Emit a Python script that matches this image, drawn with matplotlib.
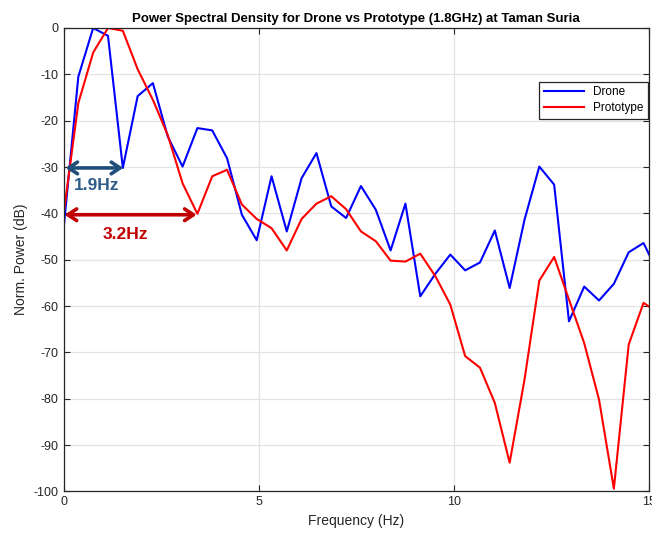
import matplotlib
matplotlib.use("Agg")
import matplotlib.pyplot as plt

plt.rcParams["font.family"] = ["Liberation Sans", "DejaVu Sans"]
plt.rcParams["axes.unicode_minus"] = False

# frequency bins (Hz), last bin lies just past the axis limit
freq = [0.00, 0.38, 0.76, 1.14, 1.52, 1.90, 2.29, 2.67, 3.05, 3.43,
        3.81, 4.19, 4.57, 4.95, 5.33, 5.72, 6.10, 6.48, 6.86, 7.24,
        7.62, 8.00, 8.38, 8.76, 9.14, 9.53, 9.91, 10.29, 10.67, 11.05,
        11.43, 11.81, 12.19, 12.57, 12.95, 13.34, 13.72, 14.10, 14.48, 14.86,
        15.24]

drone = [-43.5, -10.5, 0.0, -1.7, -30.2, -14.7, -11.9, -23.4, -29.9, -21.6,
         -22.1, -28.1, -40.3, -45.8, -32.0, -43.9, -32.4, -27.0, -38.5, -41.0,
         -34.1, -39.2, -48.0, -37.9, -57.9, -53.0, -48.9, -52.3, -50.6, -43.7,
         -56.1, -41.4, -29.9, -33.8, -63.3, -55.8, -58.8, -55.2, -48.4, -46.4,
         -53.0]

prototype = [-40.3, -16.2, -5.3, 0.0, -0.6, -8.9, -15.5, -23.1, -33.5, -40.1,
             -32.0, -30.6, -38.1, -41.2, -43.2, -48.0, -41.2, -37.9, -36.3, -39.1,
             -43.9, -46.0, -50.2, -50.4, -48.7, -53.6, -59.7, -70.8, -73.3, -80.9,
             -93.8, -75.9, -54.5, -49.4, -58.6, -68.0, -80.2, -99.4, -68.3, -59.3,
             -61.5]

# bandwidth annotations: (label, start, end, level, label x, label y)
span_drone = ("1.9Hz", 0.05, 1.53, -30.2, 0.85, -33.9)
span_proto = ("3.2Hz", 0.03, 3.41, -40.3, 1.58, -44.6)

fig = plt.figure(figsize=(6.52, 5.33), dpi=100)
ax = fig.add_axes([0.0974, 0.078, 0.898, 0.8695])

ax.plot(freq, drone, color="#0000FF", lw=1.5, label="Drone")
ax.plot(freq, prototype, color="#FF0000", lw=1.5, label="Prototype")

ax.set_xlim(0, 15)
ax.set_ylim(-100, 0)
ax.set_xticks([0, 5, 10, 15])
ax.set_yticks(range(-100, 1, 10))
ax.grid(True, color="#E3E3E3", lw=0.9)
ax.set_axisbelow(True)
ax.tick_params(direction="in", top=True, right=True, labelsize=9,
               colors="#262626", length=4)
for s in ax.spines.values():
    s.set_color("#262626")
    s.set_linewidth(0.9)

ax.set_title("Power Spectral Density for Drone vs Prototype (1.8GHz) at Taman Suria",
             fontsize=9.5, fontweight="bold", pad=4)
ax.set_xlabel("Frequency (Hz)", fontsize=10, color="#262626")
ax.set_ylabel("Norm. Power (dB)", fontsize=10, color="#262626")

leg = ax.legend(loc="upper right", bbox_to_anchor=(0.999, 0.884), fontsize=8.5,
                fancybox=False, framealpha=1, edgecolor="#262626",
                handlelength=3.4, borderpad=0.4, labelspacing=0.3,
                borderaxespad=0)
leg.get_frame().set_linewidth(0.9)

# arrows marking the bandwidths
for (label, x0, x1, y, tx, ty), col, tcol in [
        (span_drone, "#1F4E79", "#2E5C8A"),
        (span_proto, "#C00000", "#C00000")]:
    ax.annotate("", xy=(x0, y), xytext=(x1, y),
                arrowprops=dict(arrowstyle="<->,head_length=0.45,head_width=0.3",
                                color=col, lw=2.6, mutation_scale=14,
                                shrinkA=0, shrinkB=0))
    ax.text(tx, ty, label, color=tcol, fontsize=12.5, fontweight="bold",
            ha="center", va="center")

fig.savefig("out.png", dpi=100)
